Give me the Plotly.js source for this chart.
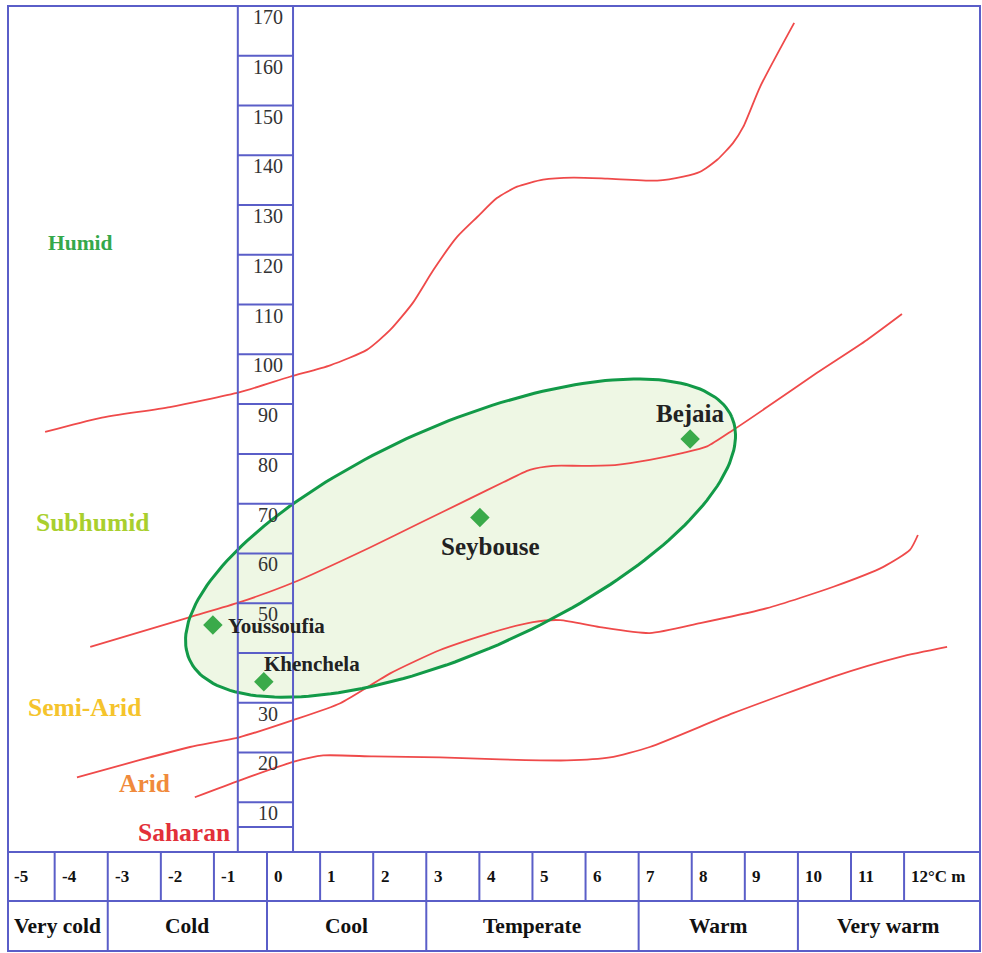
<!DOCTYPE html>
<html>
<head>
<meta charset="utf-8">
<script src="https://cdn.plot.ly/plotly-3.0.1.min.js"></script>
<style>html,body{margin:0;padding:0;background:#fff;}#chart{width:982px;height:953px;}</style>
</head>
<body>
<div id="chart"></div>
<script>
// ---------- DATA ----------
// Bioclimatic limit curves (m = mean min temp of coldest month, Q2 = Emberger quotient)
const humidLimitM = [-4.18,-3.15,-1.83,-0.51,0.43,1.19,1.88,2.32,2.75,3.13,3.58,3.96,4.33,4.71,5.2,5.77,6.41,7.35,7.84,8.16,8.48,8.78,8.97,9.29,9.93];
const humidLimitQ = [84.4,87.2,89.4,92.4,95.5,97.8,100.9,104.9,110.4,116.9,123.6,127.6,131.4,133.7,135.1,135.5,135.3,134.9,135.7,136.7,139.1,142.5,145.7,153.8,166.6];

const subhumidLimitM = [-3.33,-1.45,-0.51,0.51,1.94,2.88,3.82,4.45,4.95,5.39,5.95,6.59,7.21,7.84,8.29,8.78,9.42,10.36,11.3,11.96];
const subhumidLimitQ = [41.2,47.2,50.2,54.2,61.2,66.1,71.0,74.3,76.8,77.6,77.6,77.8,78.8,80.2,81.5,84.8,89.4,96.3,102.9,108.1];

const semiAridLimitM = [-3.58,-2.39,-1.45,-0.51,0.49,1.38,2.32,3.26,4.2,5.01,5.52,6.27,7.21,8.16,9.42,10.67,11.61,12.11,12.26];
const semiAridLimitQ = [15.0,18.5,21.1,23.1,26.5,29.9,35.9,40.6,44.0,46.2,46.6,45.2,44.0,46.0,49.0,53.3,57.3,60.7,63.7];

const aridLimitM = [-1.36,-0.51,0.49,1.06,2.0,3.26,4.39,5.65,6.46,7.21,8.78,10.66,11.93,12.81];
const aridLimitQ = [11.0,14.4,18.1,19.4,19.2,19.0,18.6,18.4,19.0,21.1,27.9,35.2,39.2,41.2];

// Stations
const stationNames = ["Bejaia","Seybouse","Youssoufia","Khenchela"];
const stationM = [7.97, 4.01, -1.02, -0.06];
const stationQ = [83.0, 67.2, 45.6, 34.2];

// Axis / table labels
const qTickValues = [170,160,150,140,130,120,110,100,90,80,70,60,50,40,30,20,10,5];
const qTickLabels = ["170","160","150","140","130","120","110","100","90","80","70","60","50","","30","20","10",""];
const tempValues = [-5,-4,-3,-2,-1,0,1,2,3,4,5,6,7,8,9,10,11,12];
const tempLabels = ["-5","-4","-3","-2","-1","0","1","2","3","4","5","6","7","8","9","10","11","12°C m"];
const classNames = ["Very cold","Cold","Cool","Temperate","Warm","Very warm"];
const classBounds = [-5,-3,0,3,7,10,14];
const zoneNames = ["Humid","Subhumid","Semi-Arid","Arid","Saharan"];

// ---------- STYLE ----------
const BLUE = '#5a5ec8';
const RED = '#ef4a4a';
const SERIF = '"Liberation Serif", "Times New Roman", serif';
const xRange = [-4.879, 13.43];
const yRange = [0, 170];
const colX0 = -0.55, colX1 = 0.49;
const row1Bottom = -0.0579, row2Bottom = -0.117;

// ellipse (station envelope)
const ell = {cm: 3.645, cq: 63.08, um: 5.107, uq: 24.39, vm: 0.867, vq: -20.69};
const ellM = [], ellQ = [];
for (let i = 0; i <= 200; i++) {
  const t = 2 * Math.PI * i / 200;
  ellM.push(ell.cm + ell.um * Math.cos(t) + ell.vm * Math.sin(t));
  ellQ.push(ell.cq + ell.uq * Math.cos(t) + ell.vq * Math.sin(t));
}

const redLine = {color: RED, width: 1.8, shape: 'spline', smoothing: 0.6};
const traces = [
  {x: ellM, y: ellQ, mode: 'lines', fill: 'toself', fillcolor: 'rgba(190,225,150,0.26)', line: {width: 0}, hoverinfo: 'skip'},
  {x: humidLimitM, y: humidLimitQ, mode: 'lines', line: redLine},
  {x: subhumidLimitM, y: subhumidLimitQ, mode: 'lines', line: redLine},
  {x: semiAridLimitM, y: semiAridLimitQ, mode: 'lines', line: redLine},
  {x: aridLimitM, y: aridLimitQ, mode: 'lines', line: redLine},
  {x: ellM, y: ellQ, mode: 'lines', line: {color: '#129a48', width: 3}, hoverinfo: 'skip'},
  {x: stationM, y: stationQ, mode: 'markers', marker: {symbol: 'diamond', size: 15, color: '#3aaa4a'}, text: stationNames}
];

const shapes = [];
const ann = [];
// outer border
shapes.push({type: 'rect', xref: 'paper', yref: 'paper', x0: 0, x1: 1, y0: row2Bottom, y1: 1, line: {color: BLUE, width: 2}});
shapes.push({type: 'line', xref: 'paper', yref: 'paper', x0: 0, x1: 1, y0: 0, y1: 0, line: {color: BLUE, width: 2}});
shapes.push({type: 'line', xref: 'paper', yref: 'paper', x0: 0, x1: 1, y0: row1Bottom, y1: row1Bottom, line: {color: BLUE, width: 2}});
// Q2 column
[colX0, colX1].forEach(x => shapes.push({type: 'line', xref: 'x', yref: 'y', x0: x, x1: x, y0: 0, y1: 170, line: {color: BLUE, width: 2}, layer: 'above'}));
qTickValues.forEach((v, i) => {
  if (v < 170) shapes.push({type: 'line', xref: 'x', yref: 'y', x0: colX0, x1: colX1, y0: v, y1: v, line: {color: BLUE, width: 2}, layer: 'above'});
  if (qTickLabels[i]) ann.push({xref: 'x', yref: 'y', x: 0.02, y: v, yshift: -11, text: qTickLabels[i], showarrow: false,
    font: {family: SERIF, size: 20, color: '#333'}, xanchor: 'center', yanchor: 'middle'});
});
// temperature row
tempValues.forEach((v, i) => {
  if (v > -5) shapes.push({type: 'line', xref: 'x', yref: 'paper', x0: v, x1: v, y0: 0, y1: row1Bottom, line: {color: BLUE, width: 2}});
  ann.push({xref: 'x', yref: 'paper', x: Math.max(v + 0.1, xRange[0] + 0.07), y: -0.0284, text: tempLabels[i], showarrow: false,
    font: {family: SERIF, size: 17, color: '#111', weight: 'bold'}, xanchor: 'left', yanchor: 'middle'});
});
// class row
classNames.forEach((n, i) => {
  if (i > 0) shapes.push({type: 'line', xref: 'x', yref: 'paper', x0: classBounds[i], x1: classBounds[i], y0: row1Bottom, y1: row2Bottom, line: {color: BLUE, width: 2}});
  const a = Math.max(classBounds[i], xRange[0]), b = Math.min(classBounds[i + 1], xRange[1]);
  ann.push({xref: 'x', yref: 'paper', x: (a + b) / 2, y: -0.0875, text: n, showarrow: false,
    font: {family: SERIF, size: 21.5, color: '#111', weight: 'bold'}, xanchor: 'center', yanchor: 'middle'});
});
// zone labels
const zoneStyle = [
  {x: -3.52, y: 122.4, c: '#34a84a', s: 21.5},
  {x: -3.28, y: 66.3, c: '#a9cf2e', s: 25.5},
  {x: -3.43, y: 29.1, c: '#f5c42c', s: 25.5},
  {x: -2.30, y: 13.8, c: '#f08a3c', s: 25.5},
  {x: -1.56, y: 3.9, c: '#e2303a', s: 25.5}
];
zoneNames.forEach((n, i) => ann.push({xref: 'x', yref: 'y', x: zoneStyle[i].x, y: zoneStyle[i].y, text: n, showarrow: false,
  font: {family: SERIF, size: zoneStyle[i].s, color: zoneStyle[i].c, weight: 'bold'}, xanchor: 'center', yanchor: 'middle'}));
// station labels
const stStyle = [
  {xa: 'center', xs: 0, ys: 25, s: 25},
  {xa: 'center', xs: 11, ys: -29, s: 25},
  {xa: 'left', xs: 13, ys: -1, s: 21},
  {xa: 'left', xs: -2, ys: 18, s: 21}
];
stationNames.forEach((n, i) => ann.push({xref: 'x', yref: 'y', x: stationM[i], y: stationQ[i], xshift: stStyle[i].xs, yshift: stStyle[i].ys,
  text: n, showarrow: false, font: {family: SERIF, size: stStyle[i].s, color: '#222', weight: 'bold'}, xanchor: stStyle[i].xa, yanchor: 'middle'}));

const axisCommon = {showgrid: false, zeroline: false, showticklabels: false, ticks: '', showline: false, fixedrange: true};
const layout = {
  width: 982, height: 953,
  margin: {l: 8, r: 2, t: 6, b: 101},
  paper_bgcolor: '#fff', plot_bgcolor: '#fff',
  showlegend: false,
  xaxis: Object.assign({range: xRange}, axisCommon),
  yaxis: Object.assign({range: yRange}, axisCommon),
  shapes: shapes,
  annotations: ann
};
Plotly.newPlot('chart', traces, layout, {displayModeBar: false, staticPlot: true});
</script>
</body>
</html>
